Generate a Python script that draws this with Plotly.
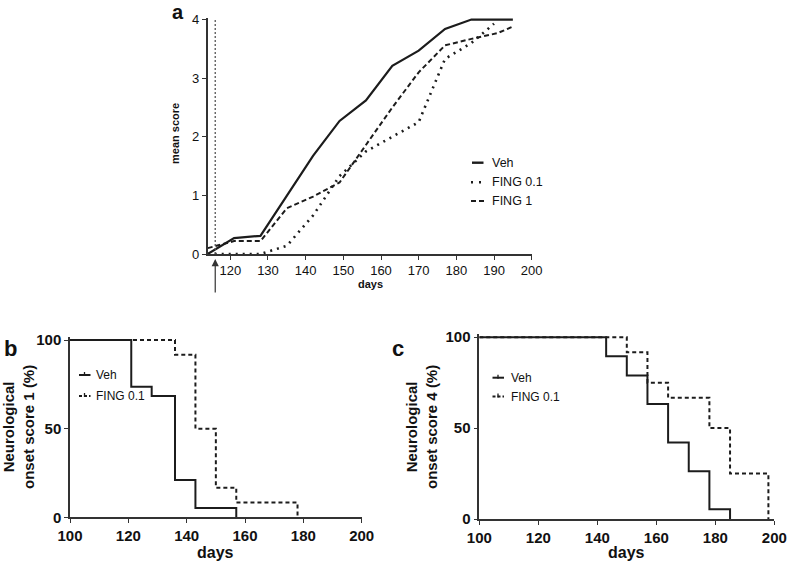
import plotly.graph_objects as go

W, H = 787, 562
FONT = "Liberation Sans"

# ---------------- data ----------------
# panel a: mean neurological score over time
days_a = [114, 121, 128, 135, 142, 149, 156, 163, 170, 177, 184, 191, 195]
veh_a = [0, 0.27, 0.31, 0.99, 1.68, 2.27, 2.62, 3.21, 3.47, 3.84, 4.0, 4.0, 4.0]
fing1_a = [0.10, 0.22, 0.22, 0.78, 0.98, 1.22, 1.86, 2.50, 3.10, 3.56, 3.67, 3.77, 3.88]
days_a_f01 = [114, 121, 128, 135, 142, 149, 156, 163, 170, 177, 184, 190]
fing01_a = [0, 0, 0, 0.14, 0.66, 1.33, 1.75, 2.0, 2.25, 3.33, 3.60, 3.93]
treatment_day = 116

# panel b: onset score 1 (Kaplan-Meier)
b_veh_days = [100, 121, 128, 136, 143, 157]
b_veh_pct = [100, 73.7, 68.4, 21.1, 5.3, 0]
b_fing_days = [100, 136, 143, 150, 157, 178]
b_fing_pct = [100, 91.7, 50, 16.7, 8.3, 0]

# panel c: onset score 4 (Kaplan-Meier)
c_veh_days = [100, 143, 150, 157, 164, 171, 178, 185]
c_veh_pct = [100, 89.5, 78.9, 63.2, 42.1, 26.3, 5.3, 0]
c_fing_days = [100, 150, 157, 164, 178, 185, 198]
c_fing_pct = [100, 91.7, 75, 66.7, 50, 25, 0]

a_xticks = [120, 130, 140, 150, 160, 170, 180, 190, 200]
a_yticks = [0, 1, 2, 3, 4]
km_xticks = [100, 120, 140, 160, 180, 200]
km_yticks = [0, 50, 100]

# ---------------- helpers ----------------
def px(x):
    return x / W

def py(y):
    return 1 - y / H

INK = "#1c1c1c"
AX = "#333333"

fig = go.Figure()

# panel a traces
fig.add_trace(go.Scatter(x=days_a, y=veh_a, mode="lines", xaxis="x", yaxis="y",
                         line=dict(color=INK, width=2.2), showlegend=False))
fig.add_trace(go.Scatter(x=days_a_f01, y=fing01_a, mode="lines", xaxis="x", yaxis="y",
                         line=dict(color=INK, width=2.6, dash="2px,5px"), showlegend=False))
fig.add_trace(go.Scatter(x=days_a, y=fing1_a, mode="lines", xaxis="x", yaxis="y",
                         line=dict(color=INK, width=2, dash="5px,3px"), showlegend=False))

# panel b traces
fig.add_trace(go.Scatter(x=b_veh_days, y=b_veh_pct, mode="lines", line_shape="hv",
                         xaxis="x2", yaxis="y2", line=dict(color=INK, width=2), showlegend=False))
fig.add_trace(go.Scatter(x=b_fing_days, y=b_fing_pct, mode="lines", line_shape="hv",
                         xaxis="x2", yaxis="y2", line=dict(color=INK, width=2, dash="4px,3px"),
                         showlegend=False))

# panel c traces
fig.add_trace(go.Scatter(x=c_veh_days, y=c_veh_pct, mode="lines", line_shape="hv",
                         xaxis="x3", yaxis="y3", line=dict(color=INK, width=2), showlegend=False))
fig.add_trace(go.Scatter(x=c_fing_days, y=c_fing_pct, mode="lines", line_shape="hv",
                         xaxis="x3", yaxis="y3", line=dict(color=INK, width=2, dash="4px,3px"),
                         showlegend=False))

axis_common = dict(showline=True, linecolor=AX, linewidth=1.5, ticks="outside", ticklen=4,
                   tickcolor=AX, tickwidth=1.2, showgrid=False, zeroline=False, fixedrange=True,
                   automargin=False)
a_tickfont = dict(family=FONT, size=13, color="#111")
km_tickfont = dict(family=FONT, size=15, color="#111", weight="bold")

fig.update_layout(
    width=W, height=H, margin=dict(l=0, r=0, t=0, b=0, autoexpand=False),
    paper_bgcolor="white", plot_bgcolor="white", showlegend=False,
    xaxis=dict(domain=[px(207.7), px(531.7)], range=[114, 200], tickvals=a_xticks,
               anchor="y", tickfont=a_tickfont, **axis_common),
    yaxis=dict(domain=[py(254), py(17.8)], range=[0, 4.03], tickvals=a_yticks,
               anchor="x", tickfont=a_tickfont, **axis_common),
    xaxis2=dict(domain=[px(70), px(361.7)], range=[100, 200], tickvals=km_xticks,
                anchor="y2", tickfont=km_tickfont, **axis_common),
    yaxis2=dict(domain=[py(517.3), py(336.5)], range=[0, 102], tickvals=km_yticks,
                anchor="x2", tickfont=km_tickfont, **axis_common),
    xaxis3=dict(domain=[px(479.3), px(774.3)], range=[100, 200], tickvals=km_xticks,
                anchor="y3", tickfont=km_tickfont, **axis_common),
    yaxis3=dict(domain=[py(519), py(333.6)], range=[0, 102], tickvals=km_yticks,
                anchor="x3", tickfont=km_tickfont, **axis_common),
)

shapes = []
annotations = []

# treatment start: dotted vertical line and arrow
shapes.append(dict(type="line", xref="x", yref="y", x0=treatment_day, x1=treatment_day,
                   y0=0, y1=4, line=dict(color="#555", width=1.3, dash="2px,2px")))
annotations.append(dict(x=treatment_day, y=py(259), xref="x", yref="paper", text="",
                        showarrow=True, arrowhead=2, arrowsize=1.2, arrowwidth=1.2,
                        arrowcolor=AX, ax=0, ay=35))

def txt(x, y, s, size, bold=False, angle=0, xanchor="center", yanchor="middle"):
    annotations.append(dict(x=px(x), y=py(y), xref="paper", yref="paper", text=s,
                            showarrow=False, textangle=angle, xanchor=xanchor, yanchor=yanchor,
                            font=dict(family=FONT, size=size, color="#111",
                                      weight="bold" if bold else "normal")))

# panel letters
txt(178, 11.5, "a", 20, bold=True)
txt(10, 348, "b", 22, bold=True)
txt(398, 348, "c", 22, bold=True)

# axis titles
txt(370, 284, "days", 11, bold=True)
txt(175, 134, "mean score", 11, bold=True, angle=-90)
txt(215, 552, "days", 16, bold=True)
txt(626.7, 552, "days", 16, bold=True)
txt(18, 427, "Neurological<br>onset score 1 (%)", 15, bold=True, angle=-90)
txt(421, 427, "Neurological<br>onset score 4 (%)", 15, bold=True, angle=-90)

# legend panel a
def seg(x0, x1, y, dash="solid", width=2):
    shapes.append(dict(type="line", xref="paper", yref="paper", x0=px(x0), x1=px(x1),
                       y0=py(y), y1=py(y), line=dict(color=INK, width=width, dash=dash)))

seg(472, 483.5, 162.7, "solid", 2.4)
seg(471, 484, 182.3, "2px,6px", 2.6)
seg(471, 484, 201, "5px,3px", 2)
txt(490, 162.7, "Veh", 12.5, xanchor="left")
txt(490, 182.3, "FING 0.1", 12.5, xanchor="left")
txt(490, 201, "FING 1", 12.5, xanchor="left")

# legend panels b & c (with censor tick)
def km_leg(x0, y, dash):
    seg(x0, x0 + 11.5, y, dash, 2)
    shapes.append(dict(type="line", xref="paper", yref="paper", x0=px(x0 + 5.5), x1=px(x0 + 5.5),
                       y0=py(y - 3), y1=py(y + 1), line=dict(color=INK, width=1.3)))

km_leg(79, 375, "solid")
km_leg(79, 396, "3px,2px")
txt(94, 375, "Veh", 12, xanchor="left")
txt(94, 396, "FING 0.1", 12, xanchor="left")

km_leg(492.5, 377.7, "solid")
km_leg(492.5, 396.5, "3px,2px")
txt(509, 377.7, "Veh", 12, xanchor="left")
txt(509, 396.5, "FING 0.1", 12, xanchor="left")

fig.update_layout(shapes=shapes, annotations=annotations)
fig.write_html(
    "out.html",
    config={"displayModeBar": False},
    post_script="document.body.style.margin='0';document.body.style.overflow='hidden';",
)
